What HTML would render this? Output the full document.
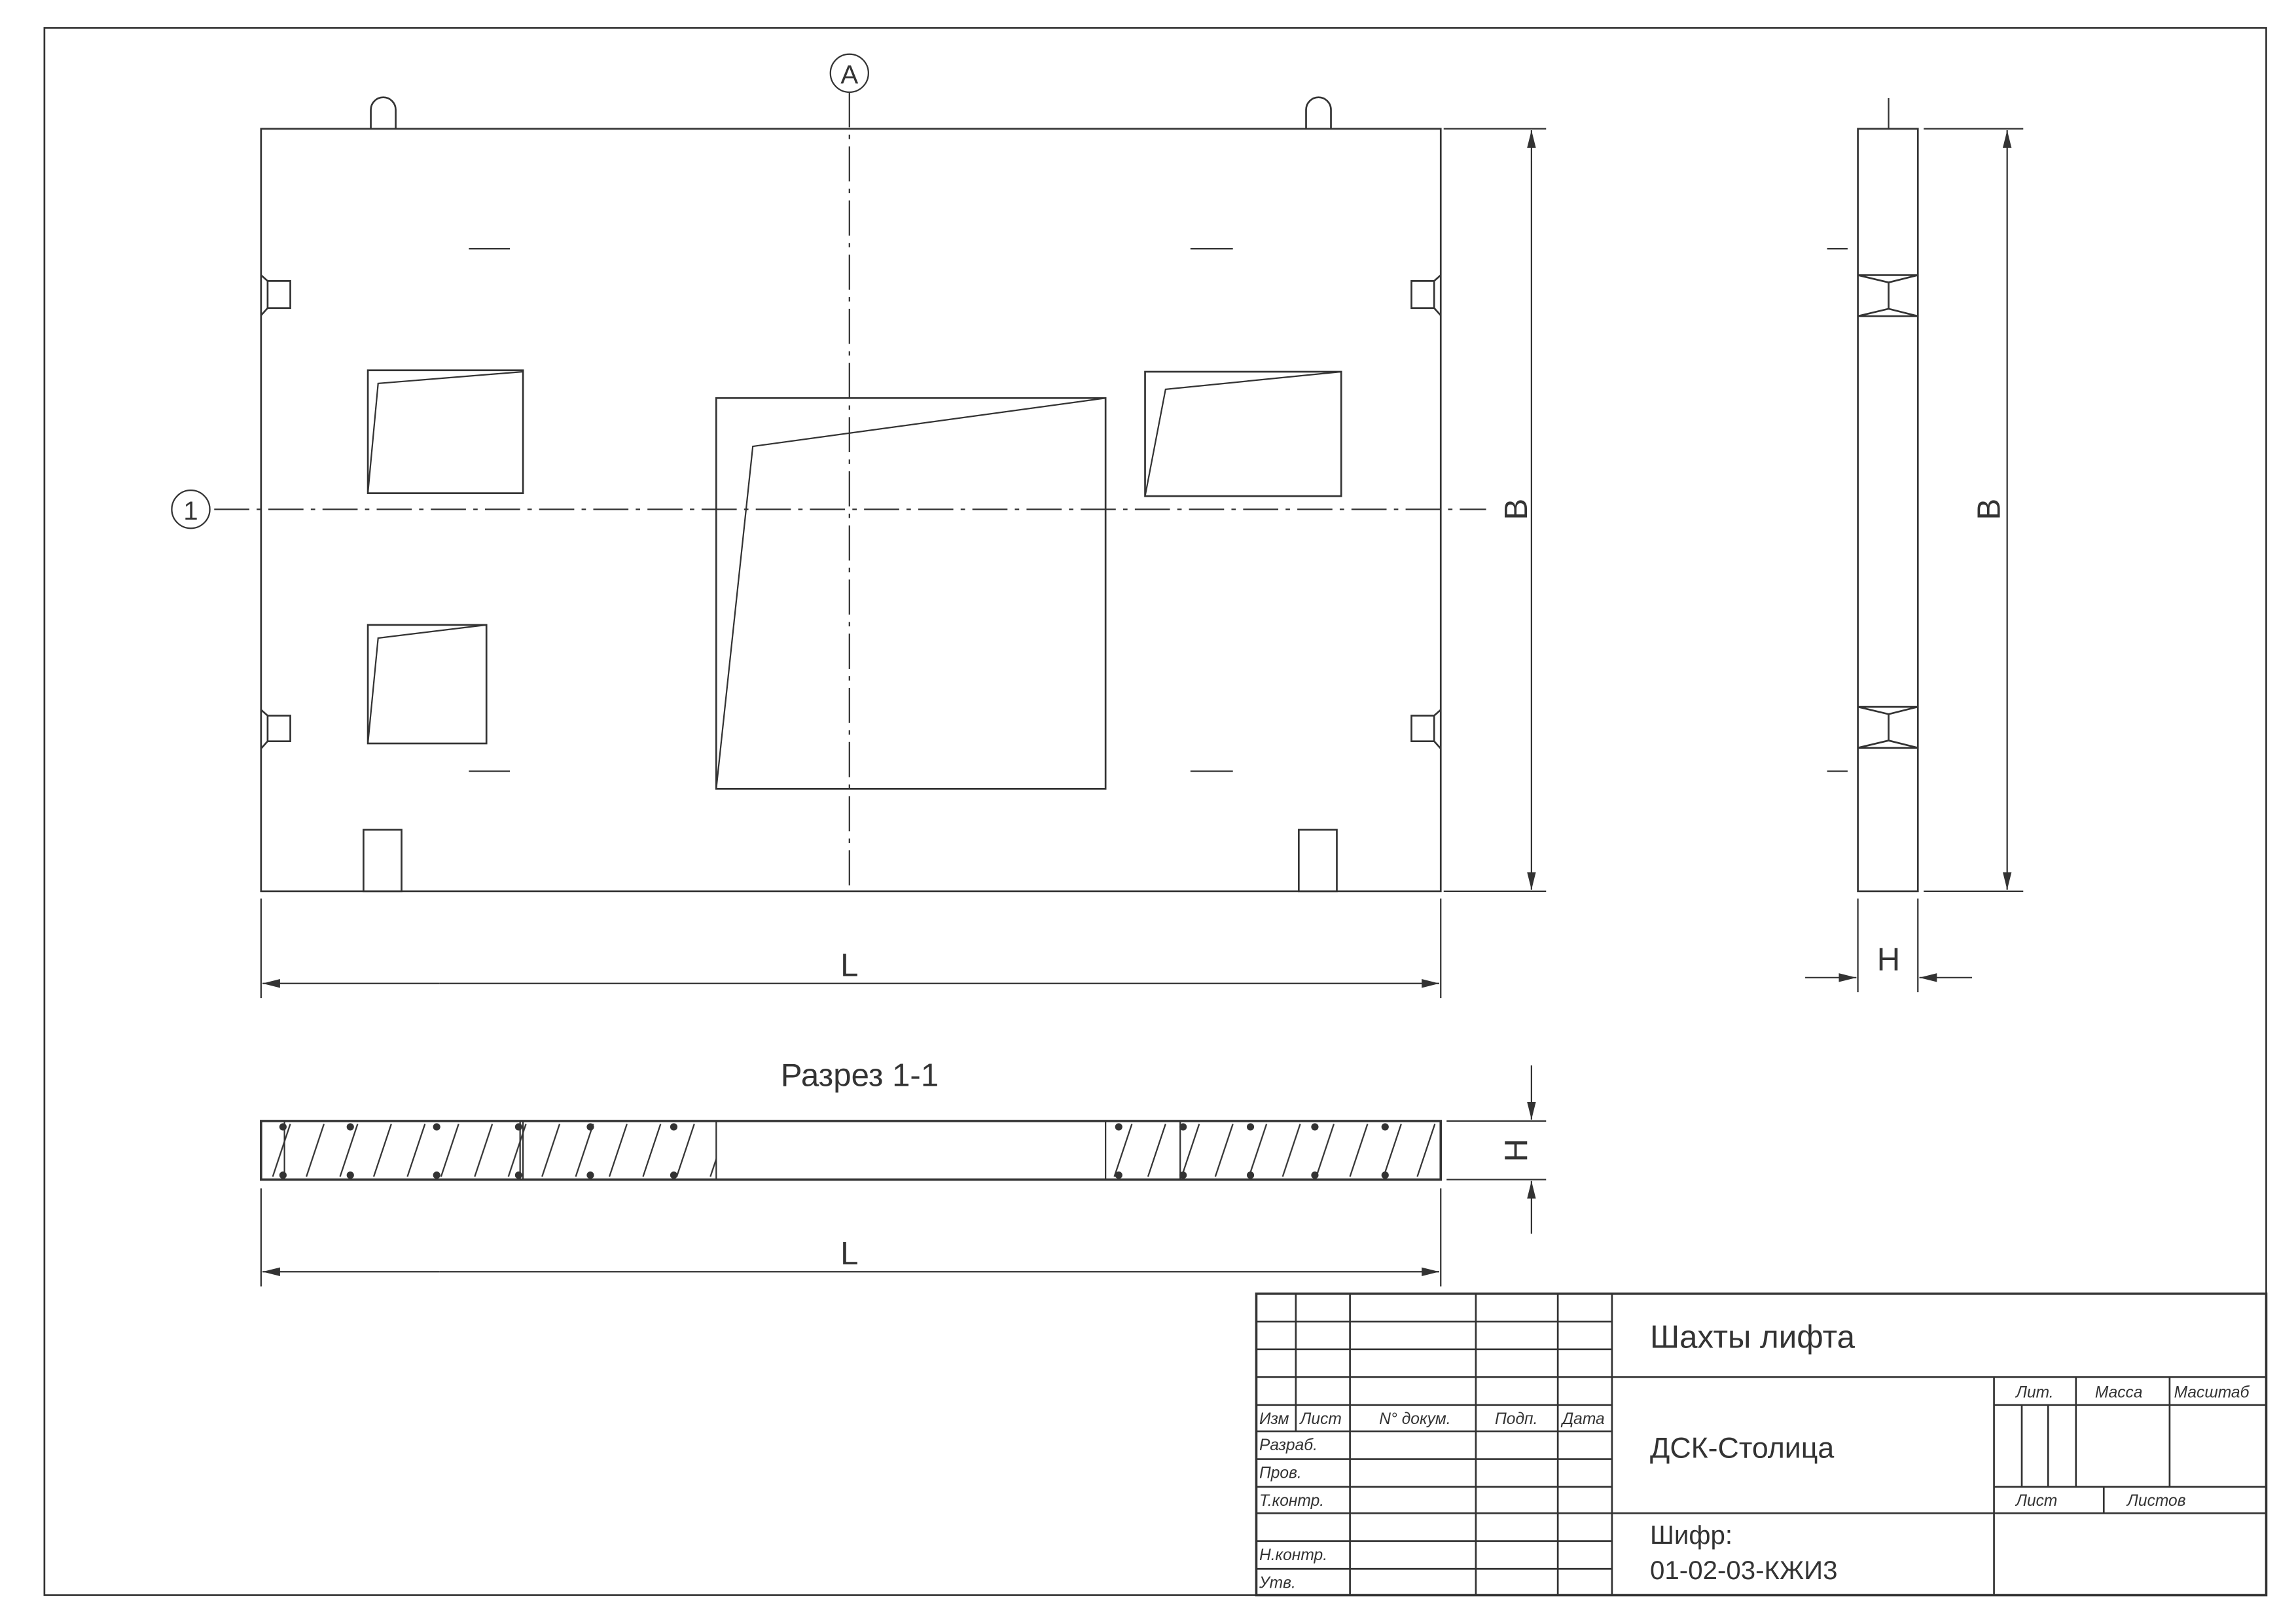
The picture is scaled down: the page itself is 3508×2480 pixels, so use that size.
<!DOCTYPE html>
<html><head><meta charset="utf-8"><style>
html,body{margin:0;padding:0;background:#fff;}
svg{display:block;}
text{font-family:"Liberation Sans",sans-serif;fill:#333;}
.i{font-style:italic;font-size:11px;}
</style></head><body>
<svg width="3508" height="2480" viewBox="0 0 1568 1109" xmlns="http://www.w3.org/2000/svg">
<defs>
<pattern id="h" patternUnits="userSpaceOnUse" width="23" height="40" patternTransform="translate(0,766)">
<line x1="2" y1="38" x2="14" y2="2" stroke="#333" stroke-width="1"/>
</pattern>
<marker id="a" viewBox="0 0 12 6" refX="12" refY="3" markerWidth="12" markerHeight="6" orient="auto" markerUnits="userSpaceOnUse"><path d="M0,0 L12,3 L0,6 Z" fill="#333"/></marker>
</defs>
<g fill="none" stroke="#333" stroke-width="1.2">
<rect x="30" y="19" width="1518" height="1071"/>
<!-- plate -->
<rect x="178" y="88" width="806" height="521"/>
<path d="M253,88 V75 a8.5,8.5 0 0 1 17,0 V88 M892,88 V75 a8.5,8.5 0 0 1 17,0 V88"/>
<path d="M320,170 H348 M813,170 H842 M320,527 H348 M813,527 H842" stroke-width="1"/>
<!-- side notches -->
<path d="M178,188 L182.5,192 V210.5 L178,215.5 M182.5,192 H198 V210.5 H182.5"/>
<path d="M178,485 L182.5,489 V506.5 L178,511.5 M182.5,489 H198 V506.5 H182.5"/>
<path d="M984,188 L979.5,192 V210.5 L984,215.5 M979.5,192 H964 V210.5 H979.5"/>
<path d="M984,485 L979.5,489 V506.5 L984,511.5 M979.5,489 H964 V506.5 H979.5"/>
<!-- openings -->
<rect x="251" y="253" width="106" height="84"/><path d="M251,337 L258,262 L357,254" stroke-width="1"/>
<rect x="489" y="272" width="266" height="267"/><path d="M489,539 L514,305 L755,272" stroke-width="1"/>
<rect x="782" y="254" width="134" height="85"/><path d="M782,339 L796,266 L916,254" stroke-width="1"/>
<rect x="251" y="427" width="81" height="81"/><path d="M251,508 L258,436 L332,427" stroke-width="1"/>
<rect x="248" y="567" width="26" height="42"/><rect x="887" y="567" width="26" height="42"/>
<!-- axes -->
<line x1="580" y1="63" x2="580" y2="605" stroke-width="1" stroke-dasharray="24,5,3,5"/>
<line x1="146" y1="348" x2="1015" y2="348" stroke-width="1" stroke-dasharray="24,5,3,5"/>
<circle cx="580" cy="50" r="13" stroke-width="1"/>
<circle cx="130" cy="348" r="13" stroke-width="1"/>
<!-- dims plate -->
<path d="M986,88 H1056 M986,609 H1056 M178,614 V682 M984,614 V682" stroke-width="1"/>
<line x1="1046" y1="110" x2="1046" y2="89" stroke-width="1" marker-end="url(#a)"/>
<line x1="1046" y1="110" x2="1046" y2="608" stroke-width="1" marker-end="url(#a)"/>
<line x1="300" y1="672" x2="179" y2="672" stroke-width="1" marker-end="url(#a)"/>
<line x1="300" y1="672" x2="983" y2="672" stroke-width="1" marker-end="url(#a)"/>
<!-- side view -->
<rect x="1269" y="88" width="41" height="521"/>
<path d="M1290,67 V88 M1248,170 H1262 M1248,527 H1262" stroke-width="1"/>
<path d="M1269,188 H1310 M1269,216 H1310 M1269,188 L1290,193 L1310,188 M1290,193 V211 M1269,216 L1290,211 L1310,216"/>
<path d="M1269,483 H1310 M1269,511 H1310 M1269,483 L1290,488 L1310,483 M1290,488 V506 M1269,511 L1290,506 L1310,511"/>
<path d="M1314,88 H1382 M1314,609 H1382 M1269,614 V678 M1310,614 V678" stroke-width="1"/>
<line x1="1371" y1="110" x2="1371" y2="89" stroke-width="1" marker-end="url(#a)"/>
<line x1="1371" y1="110" x2="1371" y2="608" stroke-width="1" marker-end="url(#a)"/>
<line x1="1233" y1="668" x2="1268" y2="668" stroke-width="1" marker-end="url(#a)"/>
<line x1="1347" y1="668" x2="1311" y2="668" stroke-width="1" marker-end="url(#a)"/>
<!-- section -->
<rect x="178" y="766" width="311" height="40" fill="url(#h)" stroke="none"/>
<rect x="755" y="766" width="229" height="40" fill="url(#h)" stroke="none"/>
<rect x="178" y="766" width="806" height="40" stroke-width="1.6"/>
<path d="M194,766 V806 M355,766 V806 M357,766 V806 M489,766 V806 M755,766 V806 M806,766 V806" stroke-width="1"/>
<path d="M988,766 H1056 M988,806 H1056 M178,812 V879 M984,812 V879" stroke-width="1"/>
<line x1="1046" y1="728" x2="1046" y2="765" stroke-width="1" marker-end="url(#a)"/>
<line x1="1046" y1="843" x2="1046" y2="807" stroke-width="1" marker-end="url(#a)"/>
<line x1="300" y1="869" x2="179" y2="869" stroke-width="1" marker-end="url(#a)"/>
<line x1="300" y1="869" x2="983" y2="869" stroke-width="1" marker-end="url(#a)"/>
</g>
<g fill="#333">
<circle cx="193" cy="770" r="2.5"/><circle cx="193" cy="803" r="2.5"/>
<circle cx="239" cy="770" r="2.5"/><circle cx="239" cy="803" r="2.5"/>
<circle cx="298" cy="770" r="2.5"/><circle cx="298" cy="803" r="2.5"/>
<circle cx="354" cy="770" r="2.5"/><circle cx="354" cy="803" r="2.5"/>
<circle cx="403" cy="770" r="2.5"/><circle cx="403" cy="803" r="2.5"/>
<circle cx="460" cy="770" r="2.5"/><circle cx="460" cy="803" r="2.5"/>
<circle cx="764" cy="770" r="2.5"/><circle cx="764" cy="803" r="2.5"/>
<circle cx="808" cy="770" r="2.5"/><circle cx="808" cy="803" r="2.5"/>
<circle cx="854" cy="770" r="2.5"/><circle cx="854" cy="803" r="2.5"/>
<circle cx="898" cy="770" r="2.5"/><circle cx="898" cy="803" r="2.5"/>
<circle cx="946" cy="770" r="2.5"/><circle cx="946" cy="803" r="2.5"/>
</g>
<text x="580" y="57" font-size="18" text-anchor="middle">A</text>
<text x="130" y="355" font-size="18" text-anchor="middle">1</text>
<text x="580" y="667" font-size="22" text-anchor="middle">L</text>
<text x="580" y="864" font-size="22" text-anchor="middle">L</text>
<text x="1290" y="663" font-size="22" text-anchor="middle">H</text>
<text transform="translate(1043,348) rotate(-90)" font-size="22" text-anchor="middle">B</text>
<text transform="translate(1366,348) rotate(-90)" font-size="22" text-anchor="middle">B</text>
<text transform="translate(1043,786) rotate(-90)" font-size="22" text-anchor="middle">H</text>
<text x="587" y="742" font-size="22" text-anchor="middle">Разрез 1-1</text>
<!-- title block -->
<g fill="none" stroke="#333" stroke-width="1.2">
<rect x="858" y="884" width="690" height="206" stroke-width="1.6"/>
<path d="M858,903 H1101 M858,922 H1101 M858,941 H1548 M858,960 H1101 M858,978 H1101 M858,997 H1101 M858,1016 H1101 M858,1034 H1548 M858,1053 H1101 M858,1072 H1101"/>
<path d="M885,884 V978 M922,884 V1090 M1008,884 V1090 M1064,884 V1090 M1101,884 V1090"/>
<path d="M1362,941 V1090 M1418,941 V1016 M1482,941 V1016 M1362,960 H1548 M1381,960 V1016 M1399,960 V1016 M1362,1016 H1548 M1437,1016 V1034"/>
</g>
<g class="i">
<text x="860" y="973">Изм</text><text x="888" y="973">Лист</text><text x="942" y="973">N° докум.</text>
<text x="1021" y="973">Подп.</text><text x="1067" y="973">Дата</text>
<text x="860" y="991">Разраб.</text><text x="860" y="1010">Пров.</text><text x="860" y="1029">Т.контр.</text>
<text x="860" y="1066">Н.контр.</text><text x="860" y="1085">Утв.</text>
<text x="1377" y="955">Лит.</text><text x="1431" y="955">Масса</text><text x="1485" y="955">Масштаб</text>
<text x="1377" y="1029">Лист</text><text x="1453" y="1029">Листов</text>
</g>
<text x="1127" y="921" font-size="22">Шахты лифта</text>
<text x="1127" y="996" font-size="20">ДСК-Столица</text>
<text x="1127" y="1055" font-size="18">Шифр:</text>
<text x="1127" y="1079" font-size="18">01-02-03-КЖИ3</text>
</svg>
</body></html>
